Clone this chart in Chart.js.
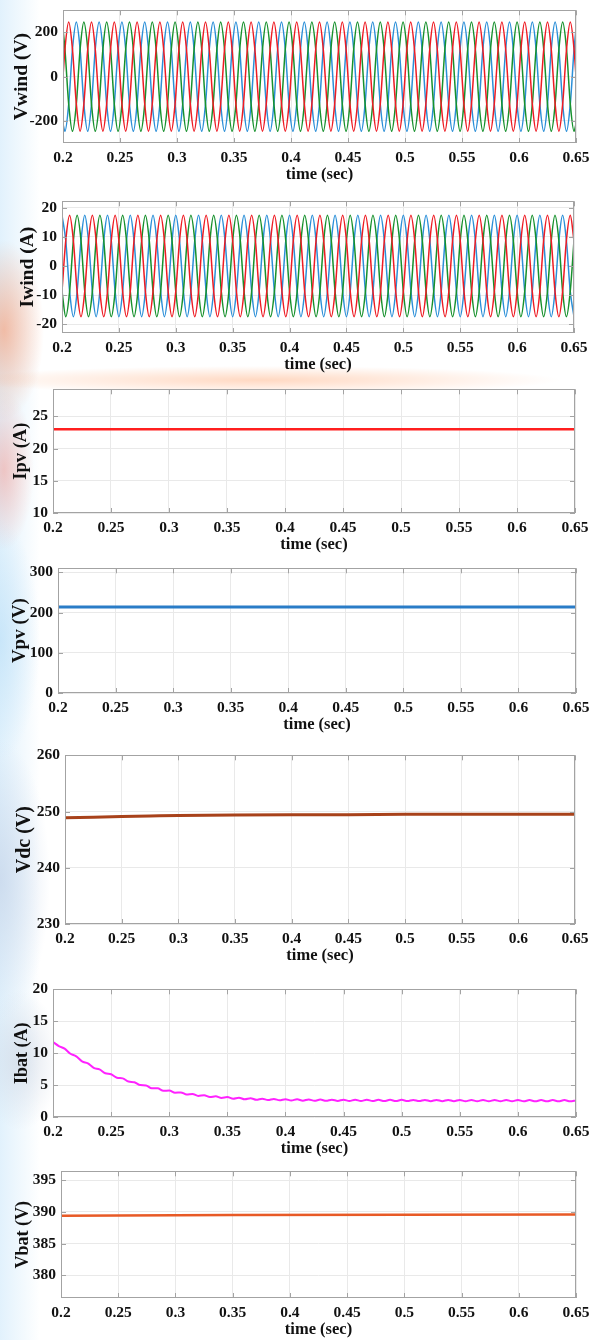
<!DOCTYPE html>
<html>
<head>
<meta charset="utf-8">
<script src="https://cdn.jsdelivr.net/npm/chart.js@4"></script>
<style>
  html, body { margin: 0; padding: 0; background: #ffffff; }
  #page {
    position: relative; width: 602px; height: 1340px; overflow: hidden;
    background:
      radial-gradient(ellipse 40px 90px at 4px 330px, rgba(255,120,60,0.45), rgba(255,255,255,0) 100%),
      radial-gradient(ellipse 30px 80px at 4px 470px, rgba(255,110,90,0.35), rgba(255,255,255,0) 100%),
      radial-gradient(ellipse 300px 14px at 260px 380px, rgba(255,170,120,0.45), rgba(255,255,255,0) 100%),
      radial-gradient(ellipse 40px 120px at 0px 640px, rgba(190,225,248,0.7), rgba(255,255,255,0) 100%),
      radial-gradient(ellipse 50px 140px at 0px 880px, rgba(200,215,235,0.8), rgba(255,255,255,0) 100%),
      radial-gradient(ellipse 40px 70px at 20px 1060px, rgba(200,210,225,0.6), rgba(255,255,255,0) 100%),
      linear-gradient(to right, rgba(222,240,252,0.9) 0, rgba(255,255,255,0) 40px);
  }
  #page canvas { position: absolute; left: 0; }
</style>
</head>
<body>
<div id="page"></div>
<script>
// ---- data ----
const xTicks = [0.2, 0.25, 0.3, 0.35, 0.4, 0.45, 0.5, 0.55, 0.6, 0.65];

// wind voltage, three phases (sampled every 60 deg of a 50 Hz wave)
const vwindTime = [0.2,
  0.2017,0.205,0.2083,0.2117,0.215,0.2183,
  0.2217,0.225,0.2283,0.2317,0.235,0.2383,
  0.2417,0.245,0.2483,0.2517,0.255,0.2583,
  0.2617,0.265,0.2683,0.2717,0.275,0.2783,
  0.2817,0.285,0.2883,0.2917,0.295,0.2983,
  0.3017,0.305,0.3083,0.3117,0.315,0.3183,
  0.3217,0.325,0.3283,0.3317,0.335,0.3383,
  0.3417,0.345,0.3483,0.3517,0.355,0.3583,
  0.3617,0.365,0.3683,0.3717,0.375,0.3783,
  0.3817,0.385,0.3883,0.3917,0.395,0.3983,
  0.4017,0.405,0.4083,0.4117,0.415,0.4183,
  0.4217,0.425,0.4283,0.4317,0.435,0.4383,
  0.4417,0.445,0.4483,0.4517,0.455,0.4583,
  0.4617,0.465,0.4683,0.4717,0.475,0.4783,
  0.4817,0.485,0.4883,0.4917,0.495,0.4983,
  0.5017,0.505,0.5083,0.5117,0.515,0.5183,
  0.5217,0.525,0.5283,0.5317,0.535,0.5383,
  0.5417,0.545,0.5483,0.5517,0.555,0.5583,
  0.5617,0.565,0.5683,0.5717,0.575,0.5783,
  0.5817,0.585,0.5883,0.5917,0.595,0.5983,
  0.6017,0.605,0.6083,0.6117,0.615,0.6183,
  0.6217,0.625,0.6283,0.6317,0.635,0.6383,
  0.6417,0.645,0.6483,
  0.65];
const vwindRed = [0,
  124,247,124,-124,-247,-124, 124,247,124,-124,-247,-124,
  124,247,124,-124,-247,-124, 124,247,124,-124,-247,-124,
  124,247,124,-124,-247,-124, 124,247,124,-124,-247,-124,
  124,247,124,-124,-247,-124, 124,247,124,-124,-247,-124,
  124,247,124,-124,-247,-124, 124,247,124,-124,-247,-124,
  124,247,124,-124,-247,-124, 124,247,124,-124,-247,-124,
  124,247,124,-124,-247,-124, 124,247,124,-124,-247,-124,
  124,247,124,-124,-247,-124, 124,247,124,-124,-247,-124,
  124,247,124,-124,-247,-124, 124,247,124,-124,-247,-124,
  124,247,124,-124,-247,-124, 124,247,124,-124,-247,-124,
  124,247,124,-124,-247,-124, 124,247,124,-124,-247,-124,
  124,247,124,
  0];
const vwindGreen = [214,
  124,-124,-247,-124,124,247, 124,-124,-247,-124,124,247,
  124,-124,-247,-124,124,247, 124,-124,-247,-124,124,247,
  124,-124,-247,-124,124,247, 124,-124,-247,-124,124,247,
  124,-124,-247,-124,124,247, 124,-124,-247,-124,124,247,
  124,-124,-247,-124,124,247, 124,-124,-247,-124,124,247,
  124,-124,-247,-124,124,247, 124,-124,-247,-124,124,247,
  124,-124,-247,-124,124,247, 124,-124,-247,-124,124,247,
  124,-124,-247,-124,124,247, 124,-124,-247,-124,124,247,
  124,-124,-247,-124,124,247, 124,-124,-247,-124,124,247,
  124,-124,-247,-124,124,247, 124,-124,-247,-124,124,247,
  124,-124,-247,-124,124,247, 124,-124,-247,-124,124,247,
  124,-124,-247,
  -214];
const vwindBlue = [-214,
  -247,-124,124,247,124,-124, -247,-124,124,247,124,-124,
  -247,-124,124,247,124,-124, -247,-124,124,247,124,-124,
  -247,-124,124,247,124,-124, -247,-124,124,247,124,-124,
  -247,-124,124,247,124,-124, -247,-124,124,247,124,-124,
  -247,-124,124,247,124,-124, -247,-124,124,247,124,-124,
  -247,-124,124,247,124,-124, -247,-124,124,247,124,-124,
  -247,-124,124,247,124,-124, -247,-124,124,247,124,-124,
  -247,-124,124,247,124,-124, -247,-124,124,247,124,-124,
  -247,-124,124,247,124,-124, -247,-124,124,247,124,-124,
  -247,-124,124,247,124,-124, -247,-124,124,247,124,-124,
  -247,-124,124,247,124,-124, -247,-124,124,247,124,-124,
  -247,-124,124,
  214];

// wind current, three phases
const iwindTime = [
  0.2,0.2033,0.2067,0.21,0.2133,0.2167,
  0.22,0.2233,0.2267,0.23,0.2333,0.2367,
  0.24,0.2433,0.2467,0.25,0.2533,0.2567,
  0.26,0.2633,0.2667,0.27,0.2733,0.2767,
  0.28,0.2833,0.2867,0.29,0.2933,0.2967,
  0.3,0.3033,0.3067,0.31,0.3133,0.3167,
  0.32,0.3233,0.3267,0.33,0.3333,0.3367,
  0.34,0.3433,0.3467,0.35,0.3533,0.3567,
  0.36,0.3633,0.3667,0.37,0.3733,0.3767,
  0.38,0.3833,0.3867,0.39,0.3933,0.3967,
  0.4,0.4033,0.4067,0.41,0.4133,0.4167,
  0.42,0.4233,0.4267,0.43,0.4333,0.4367,
  0.44,0.4433,0.4467,0.45,0.4533,0.4567,
  0.46,0.4633,0.4667,0.47,0.4733,0.4767,
  0.48,0.4833,0.4867,0.49,0.4933,0.4967,
  0.5,0.5033,0.5067,0.51,0.5133,0.5167,
  0.52,0.5233,0.5267,0.53,0.5333,0.5367,
  0.54,0.5433,0.5467,0.55,0.5533,0.5567,
  0.56,0.5633,0.5667,0.57,0.5733,0.5767,
  0.58,0.5833,0.5867,0.59,0.5933,0.5967,
  0.6,0.6033,0.6067,0.61,0.6133,0.6167,
  0.62,0.6233,0.6267,0.63,0.6333,0.6367,
  0.64,0.6433,0.6467,0.65];
const iwindBlue = [
  17.4,8.7,-8.7,-17.4,-8.7,8.7, 17.4,8.7,-8.7,-17.4,-8.7,8.7,
  17.4,8.7,-8.7,-17.4,-8.7,8.7, 17.4,8.7,-8.7,-17.4,-8.7,8.7,
  17.4,8.7,-8.7,-17.4,-8.7,8.7, 17.4,8.7,-8.7,-17.4,-8.7,8.7,
  17.4,8.7,-8.7,-17.4,-8.7,8.7, 17.4,8.7,-8.7,-17.4,-8.7,8.7,
  17.4,8.7,-8.7,-17.4,-8.7,8.7, 17.4,8.7,-8.7,-17.4,-8.7,8.7,
  17.4,8.7,-8.7,-17.4,-8.7,8.7, 17.4,8.7,-8.7,-17.4,-8.7,8.7,
  17.4,8.7,-8.7,-17.4,-8.7,8.7, 17.4,8.7,-8.7,-17.4,-8.7,8.7,
  17.4,8.7,-8.7,-17.4,-8.7,8.7, 17.4,8.7,-8.7,-17.4,-8.7,8.7,
  17.4,8.7,-8.7,-17.4,-8.7,8.7, 17.4,8.7,-8.7,-17.4,-8.7,8.7,
  17.4,8.7,-8.7,-17.4,-8.7,8.7, 17.4,8.7,-8.7,-17.4,-8.7,8.7,
  17.4,8.7,-8.7,-17.4,-8.7,8.7, 17.4,8.7,-8.7,-17.4,-8.7,8.7,
  17.4,8.7,-8.7,-17.4];
const iwindRed = [
  -8.7,8.7,17.4,8.7,-8.7,-17.4, -8.7,8.7,17.4,8.7,-8.7,-17.4,
  -8.7,8.7,17.4,8.7,-8.7,-17.4, -8.7,8.7,17.4,8.7,-8.7,-17.4,
  -8.7,8.7,17.4,8.7,-8.7,-17.4, -8.7,8.7,17.4,8.7,-8.7,-17.4,
  -8.7,8.7,17.4,8.7,-8.7,-17.4, -8.7,8.7,17.4,8.7,-8.7,-17.4,
  -8.7,8.7,17.4,8.7,-8.7,-17.4, -8.7,8.7,17.4,8.7,-8.7,-17.4,
  -8.7,8.7,17.4,8.7,-8.7,-17.4, -8.7,8.7,17.4,8.7,-8.7,-17.4,
  -8.7,8.7,17.4,8.7,-8.7,-17.4, -8.7,8.7,17.4,8.7,-8.7,-17.4,
  -8.7,8.7,17.4,8.7,-8.7,-17.4, -8.7,8.7,17.4,8.7,-8.7,-17.4,
  -8.7,8.7,17.4,8.7,-8.7,-17.4, -8.7,8.7,17.4,8.7,-8.7,-17.4,
  -8.7,8.7,17.4,8.7,-8.7,-17.4, -8.7,8.7,17.4,8.7,-8.7,-17.4,
  -8.7,8.7,17.4,8.7,-8.7,-17.4, -8.7,8.7,17.4,8.7,-8.7,-17.4,
  -8.7,8.7,17.4,8.7];
const iwindGreen = [
  -8.7,-17.4,-8.7,8.7,17.4,8.7, -8.7,-17.4,-8.7,8.7,17.4,8.7,
  -8.7,-17.4,-8.7,8.7,17.4,8.7, -8.7,-17.4,-8.7,8.7,17.4,8.7,
  -8.7,-17.4,-8.7,8.7,17.4,8.7, -8.7,-17.4,-8.7,8.7,17.4,8.7,
  -8.7,-17.4,-8.7,8.7,17.4,8.7, -8.7,-17.4,-8.7,8.7,17.4,8.7,
  -8.7,-17.4,-8.7,8.7,17.4,8.7, -8.7,-17.4,-8.7,8.7,17.4,8.7,
  -8.7,-17.4,-8.7,8.7,17.4,8.7, -8.7,-17.4,-8.7,8.7,17.4,8.7,
  -8.7,-17.4,-8.7,8.7,17.4,8.7, -8.7,-17.4,-8.7,8.7,17.4,8.7,
  -8.7,-17.4,-8.7,8.7,17.4,8.7, -8.7,-17.4,-8.7,8.7,17.4,8.7,
  -8.7,-17.4,-8.7,8.7,17.4,8.7, -8.7,-17.4,-8.7,8.7,17.4,8.7,
  -8.7,-17.4,-8.7,8.7,17.4,8.7, -8.7,-17.4,-8.7,8.7,17.4,8.7,
  -8.7,-17.4,-8.7,8.7,17.4,8.7, -8.7,-17.4,-8.7,8.7,17.4,8.7,
  -8.7,-17.4,-8.7,8.7];

// PV
const ipvTime = [0.2, 0.65];
const ipvValues = [23, 23];
const vpvTime = [0.2, 0.65];
const vpvValues = [214, 214];

// DC link
const vdcTime = [0.2, 0.225, 0.25, 0.275, 0.3, 0.35, 0.4, 0.45, 0.5, 0.55, 0.6, 0.65];
const vdcValues = [248.9, 249.0, 249.1, 249.2, 249.3, 249.4, 249.45, 249.45, 249.5, 249.5, 249.5, 249.5];

// battery current
const ibatTime = [
  0.2,0.205,0.21,0.215,0.22,0.225,0.23,0.235,0.24,0.245,
  0.25,0.255,0.26,0.265,0.27,0.275,0.28,0.285,0.29,0.295,
  0.3,0.305,0.31,0.315,0.32,0.325,0.33,0.335,0.34,0.345,
  0.35,0.355,0.36,0.365,0.37,0.375,0.38,0.385,0.39,0.395,
  0.4,0.405,0.41,0.415,0.42,0.425,0.43,0.435,0.44,0.445,
  0.45,0.455,0.46,0.465,0.47,0.475,0.48,0.485,0.49,0.495,
  0.5,0.505,0.51,0.515,0.52,0.525,0.53,0.535,0.54,0.545,
  0.55,0.555,0.56,0.565,0.57,0.575,0.58,0.585,0.59,0.595,
  0.6,0.605,0.61,0.615,0.62,0.625,0.63,0.635,0.64,0.645,
  0.65];
const ibatValues = [
  11.75,11.10,10.70,9.90,9.50,8.70,8.40,7.70,7.45,6.85,
  6.70,6.15,6.05,5.55,5.45,5.00,4.95,4.50,4.50,4.10,
  4.15,3.80,3.85,3.52,3.60,3.30,3.40,3.12,3.25,2.98,
  3.12,2.87,3.02,2.78,2.94,2.70,2.87,2.65,2.83,2.61,
  2.79,2.58,2.77,2.56,2.75,2.54,2.73,2.53,2.72,2.52,
  2.71,2.51,2.70,2.50,2.70,2.50,2.69,2.50,2.69,2.49,
  2.69,2.49,2.68,2.49,2.68,2.48,2.68,2.48,2.67,2.48,
  2.67,2.47,2.67,2.47,2.66,2.47,2.66,2.47,2.66,2.46,
  2.66,2.46,2.65,2.46,2.65,2.46,2.65,2.46,2.65,2.45,
  2.60];

// battery voltage
const vbatTime = [0.2, 0.35, 0.5, 0.65];
const vbatValues = [389.4, 389.5, 389.55, 389.6];

// ---- drawing ----
const FONT = "'Liberation Serif', 'Times New Roman', serif";
const pts = (ts, vs) => ts.map((t, i) => ({ x: t, y: vs[i] }));

function line(ts, vs, color, width, smooth) {
  return {
    data: pts(ts, vs),
    borderColor: color,
    borderWidth: width,
    pointRadius: 0,
    fill: false,
    cubicInterpolationMode: smooth ? 'monotone' : 'default',
    tension: 0
  };
}

// white plot background, frame and inward tick marks like the original plotting tool
const framePlugin = {
  id: 'frame',
  beforeDraw(chart) {
    const { ctx, chartArea: a } = chart;
    ctx.save();
    ctx.fillStyle = '#ffffff';
    ctx.fillRect(a.left, a.top, a.right - a.left, a.bottom - a.top);
    ctx.restore();
  },
  afterDraw(chart) {
    const { ctx, chartArea: a, scales } = chart;
    ctx.save();
    ctx.strokeStyle = '#a3a3a3';
    ctx.lineWidth = 1;
    ctx.beginPath();
    scales.x.ticks.forEach(t => {
      const px = Math.round(scales.x.getPixelForValue(t.value)) + 0.5;
      ctx.moveTo(px, a.bottom); ctx.lineTo(px, a.bottom - 5);
      ctx.moveTo(px, a.top); ctx.lineTo(px, a.top + 5);
    });
    scales.y.ticks.forEach(t => {
      const py = Math.round(scales.y.getPixelForValue(t.value)) + 0.5;
      ctx.moveTo(a.left, py); ctx.lineTo(a.left + 5, py);
      ctx.moveTo(a.right, py); ctx.lineTo(a.right - 5, py);
    });
    ctx.stroke();
    ctx.strokeRect(Math.round(a.left) + 0.5, Math.round(a.top) + 0.5,
      Math.round(a.right - a.left) - 1, Math.round(a.bottom - a.top) - 1);
    ctx.restore();
  }
};

function makePanel(p) {
  const padTop = 12, bottomArea = 42;
  const canvas = document.createElement('canvas');
  const h = (p.B - p.T) + padTop + bottomArea;
  canvas.width = 602;
  canvas.height = h;
  canvas.style.top = (p.T - padTop) + 'px';
  document.getElementById('page').appendChild(canvas);

  const titleSize = p.titleSize || 18;
  const padLeft = p.titleX - titleSize * 0.6;

  new Chart(canvas.getContext('2d'), {
    type: 'line',
    data: { datasets: p.datasets },
    options: {
      responsive: false,
      animation: false,
      devicePixelRatio: 1,
      events: [],
      layout: { padding: { top: padTop, right: 602 - p.R, bottom: 0, left: padLeft } },
      plugins: { legend: { display: false }, tooltip: { enabled: false } },
      scales: {
        x: {
          type: 'linear',
          min: 0.2,
          max: 0.65,
          afterBuildTicks: s => { s.ticks = xTicks.map(v => ({ value: v })); },
          afterFit: s => { s.height = bottomArea; },
          grid: { color: '#e9e9e9', drawTicks: false },
          border: { display: false },
          ticks: {
            autoSkip: false, maxRotation: 0, padding: 6, color: '#111',
            font: { family: FONT, size: 15.5, weight: 'bold' },
            callback: v => String(+v.toFixed(2))
          },
          title: {
            display: true, text: 'time (sec)', color: '#111',
            padding: 0, font: { family: FONT, size: 16.5, weight: 'bold', lineHeight: 1.2 }
          }
        },
        y: {
          type: 'linear',
          min: p.yMin,
          max: p.yMax,
          afterBuildTicks: s => { s.ticks = p.yTicks.map(v => ({ value: v })); },
          afterFit: s => { s.width = p.L - padLeft; },
          grid: { color: '#e9e9e9', drawTicks: false },
          border: { display: false },
          ticks: {
            autoSkip: false, padding: 5, color: '#111',
            font: { family: FONT, size: 15.5, weight: 'bold' }
          },
          title: {
            display: true, text: p.title, color: '#111',
            padding: 0, font: { family: FONT, size: titleSize, weight: 'bold', lineHeight: 1.2 }
          }
        }
      }
    },
    plugins: [framePlugin]
  });
}

const panels = [
  { T: 8, B: 143, L: 63, R: 576, titleX: 22, titleSize: 19.5, title: 'Vwind (V)', yMin: -300, yMax: 300, yTicks: [-200, 0, 200],
    datasets: [
      line(vwindTime, vwindRed, '#ee1c24', 1.5, true),
      line(vwindTime, vwindGreen, '#17912d', 1.5, true),
      line(vwindTime, vwindBlue, '#2b8fd8', 1.5, true)
    ] },
  { T: 199, B: 333, L: 62, R: 574, titleX: 28, titleSize: 19.5, title: 'Iwind (A)', yMin: -23, yMax: 22.2, yTicks: [-20, -10, 0, 10, 20],
    datasets: [
      line(iwindTime, iwindRed, '#ee1c24', 1.5, true),
      line(iwindTime, iwindGreen, '#17912d', 1.5, true),
      line(iwindTime, iwindBlue, '#2b8fd8', 1.5, true)
    ] },
  { T: 387, B: 513, L: 53, R: 575, titleX: 21, titleSize: 18.5, title: 'Ipv (A)', yMin: 10, yMax: 29.2, yTicks: [10, 15, 20, 25],
    datasets: [line(ipvTime, ipvValues, '#ff1f1f', 2.5, false)] },
  { T: 566, B: 693, L: 58, R: 576, titleX: 20, titleSize: 19, title: 'Vpv (V)', yMin: 0, yMax: 310, yTicks: [0, 100, 200, 300],
    datasets: [line(vpvTime, vpvValues, '#2a7cc7', 3, false)] },
  { T: 753, B: 924, L: 65, R: 575, titleX: 25, titleSize: 20, title: 'Vdc (V)', yMin: 230, yMax: 260, yTicks: [230, 240, 250, 260],
    datasets: [line(vdcTime, vdcValues, '#a8421a', 3, true)] },
  { T: 987, B: 1117, L: 53, R: 576, titleX: 22, titleSize: 18, title: 'Ibat (A)', yMin: 0, yMax: 20, yTicks: [0, 5, 10, 15, 20],
    datasets: [line(ibatTime, ibatValues, '#ff22ff', 2, true)] },
  { T: 1169, B: 1298, L: 61, R: 576, titleX: 23, titleSize: 18, title: 'Vbat (V)', yMin: 376.4, yMax: 396.4, yTicks: [380, 385, 390, 395],
    datasets: [line(vbatTime, vbatValues, '#e85a26', 2.5, false)] }
];

panels.forEach(makePanel);
</script>
</body>
</html>
